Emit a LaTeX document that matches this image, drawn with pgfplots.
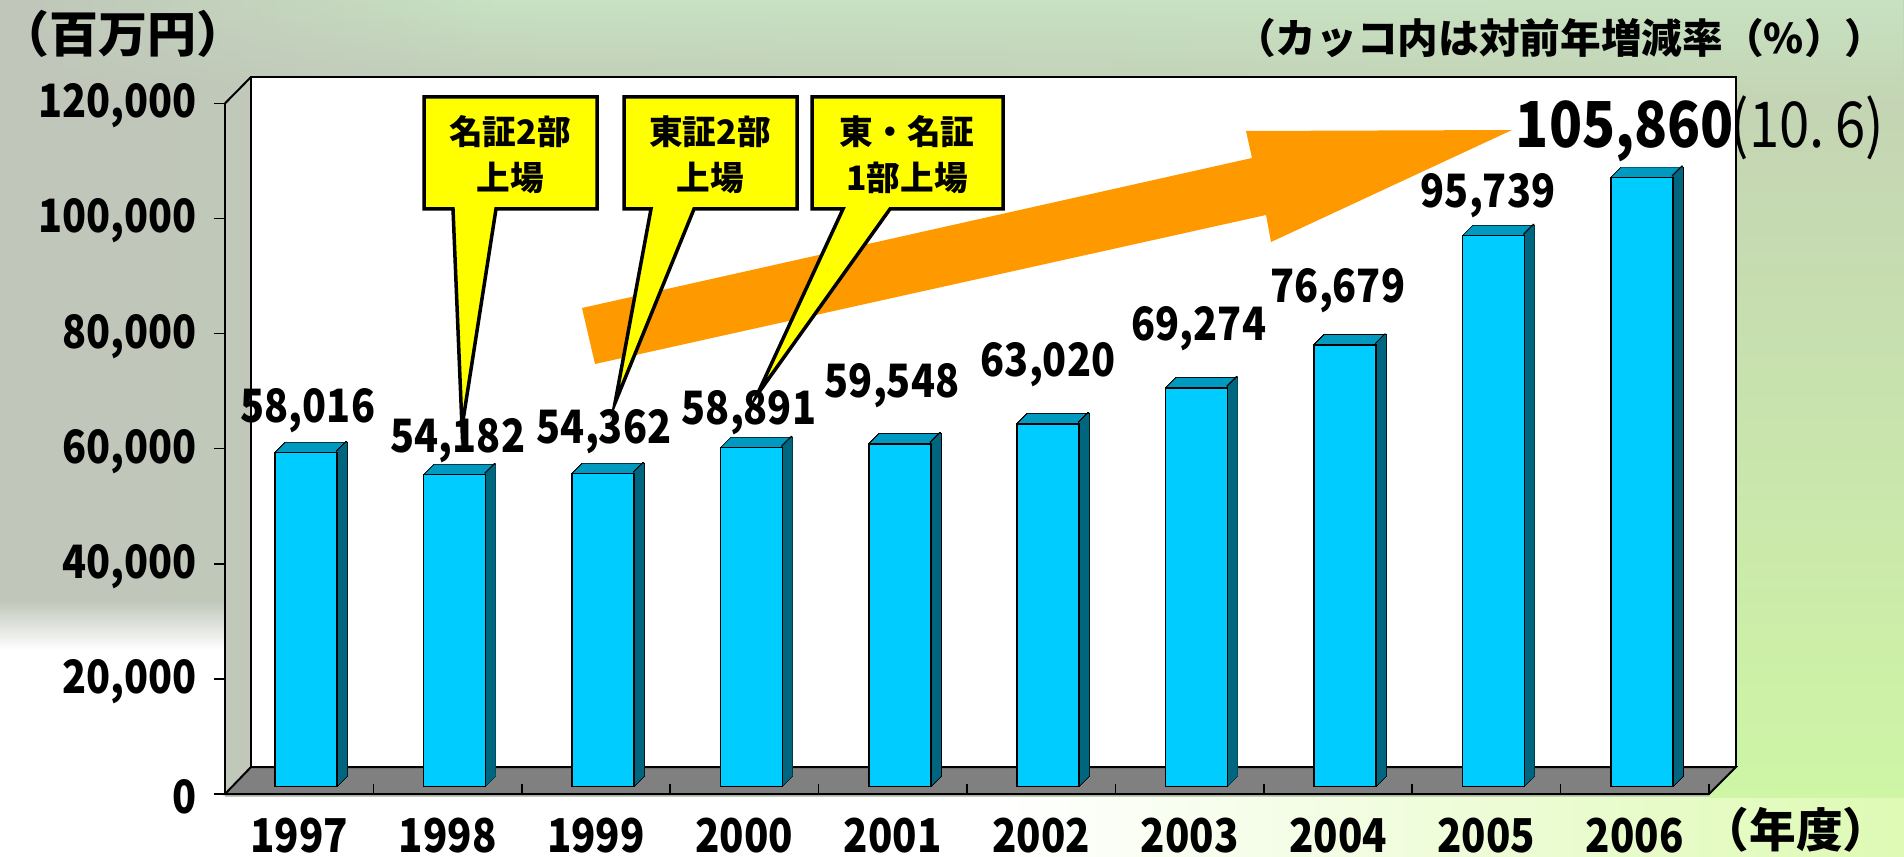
\documentclass[border=0pt]{standalone}
\usepackage{pgfplots}
\pgfplotsset{compat=1.18}
\usepackage{pgfplotstable}
\usetikzlibrary{fadings}
\usepackage{fontspec}
\setmainfont{Noto Sans CJK JP}[FakeStretch=0.86]
\newfontfamily\plainfont{Noto Sans CJK JP}
\definecolor{bfront}{RGB}{0,204,255}
\definecolor{btop}{RGB}{0,153,192}
\definecolor{bside}{RGB}{0,102,128}
\definecolor{floorgray}{RGB}{128,128,128}
\definecolor{arrowor}{RGB}{255,153,0}
\definecolor{callout}{RGB}{255,255,0}
\definecolor{bgL}{RGB}{192,198,186}
\definecolor{bgR}{RGB}{196,214,180}
\definecolor{bgRT}{RGB}{196,212,180}
\definecolor{bgRB}{RGB}{206,246,165}
\definecolor{bgBR}{RGB}{222,250,180}
\definecolor{bgTop}{RGB}{200,226,194}

\pgfplotstableread{
x v
0.5 58016
1.5 54182
2.5 54362
3.5 58891
4.5 59548
5.5 63020
6.5 69274
7.5 76679
8.5 95739
9.5 105860
}\bars

\pgfplotstableread{
lx ly lab
0.559 64466 58,016
1.570 59253 54,182
2.554 60817 54,362
3.531 64119 58,891
4.495 68810 59,548
5.546 72459 63,020
6.563 78714 69,274
7.500 85318 76,679
8.511 101825 95,739
}\labs

\newcommand{\fs}[1]{\fontsize{#1}{#1}\selectfont}

\begin{document}
\begin{tikzpicture}
\begin{scope}[x=0.3pt,y=0.3pt]
\path[use as bounding box] (0,0) rectangle (1904,-857);
% background
\shade[left color=bgL, right color=bgR] (0,0) rectangle (1904,-857);
\shade[path fading=south, left color=bgL, right color=bgTop] (0,0) rectangle (500,-100);
\fill[bgTop, path fading=south] (500,0) rectangle (1904,-100);
\shade[top color=bgL, bottom color=white] (0,-600) rectangle (225,-650);
\fill[white] (0,-650) rectangle (225,-857);
\fill[white] (225,-797) rectangle (1000,-857);
\shade[left color=white, right color=bgBR] (1000,-797) rectangle (1904,-857);
\shade[top color=bgRT, bottom color=bgRB] (1709,-100) rectangle (1904,-797);
% back wall
\filldraw[fill=white, draw=black, line width=0.6pt] (251,-767) -- (251,-77) -- (1736,-77) -- (1736,-767);
\draw[line width=0.6pt] (225,-103.4) -- (251,-77);
% floor
\filldraw[fill=floorgray, draw=black, line width=0.6pt, line join=miter] (225,-794) -- (1709,-794) -- (1736,-767) -- (251,-767) -- cycle;
\end{scope}

\begin{axis}[
  at={(67.5pt,-238.2pt)}, anchor=south west,
  scale only axis, width=445.2pt, height=207.18pt,
  xmin=0, xmax=10, ymin=0, ymax=120000,
  scaled y ticks=false,
  clip=false,
  axis x line=bottom, axis y line=left,
  axis line style={-, line width=0.8pt, black},
  ytick={0,20000,40000,60000,80000,100000,120000},
  yticklabels={0,{20,000},{40,000},{60,000},{80,000},{100,000},{120,000}},
  xtick={0.5,1.5,2.5,3.5,4.5,5.5,6.5,7.5,8.5,9.5},
  xticklabels={1997,1998,1999,2000,2001,2002,2003,2004,2005,2006},
  minor xtick={1,2,3,4,5,6,7,8,9,10},
  xtick align=inside, ytick align=outside,
  major tick length=3.3pt, minor tick length=3pt,
  major x tick style={draw=none},
  minor x tick style={black, line width=0.45pt},
  y tick style={black, line width=0.45pt},
  yticklabel style={font=\bfseries\fs{13.8pt}, inner sep=0pt, xshift=-5pt, yshift=-0.8pt},
  xticklabel style={font=\bfseries\fs{14pt}, inner sep=0pt, yshift=-6.9pt},
]
% black silhouette
\pgfplotsinvokeforeach{0,1,...,10}{
  \addplot[ybar, bar width=18.6pt, bar shift=0pt, fill=black, draw=black, line width=0.45pt,
    xshift={(7+#1)*0.3pt}, yshift={(7.5+#1)*0.3pt}] table[x=x,y=v]{\bars};
}
% top face colour
\pgfplotsinvokeforeach{1,...,10}{
  \addplot[ybar, bar width=18.6pt, bar shift=0pt, fill=btop, draw=none,
    xshift={(7+#1)*0.3pt}, yshift={(7.5+#1)*0.3pt}] table[x=x,y=v]{\bars};
}
% edge between top and side
\pgfplotsinvokeforeach{1,...,10}{
  \addplot[ybar, bar width=0.6pt, bar shift=0pt, fill=black, draw=none,
    xshift={(7+31+#1-1)*0.3pt}, yshift={(7.5+#1+1.6)*0.3pt}] table[x=x,y=v]{\bars};
}
% side face
\pgfplotsinvokeforeach{1,...,10}{
  \addplot[ybar, bar width=0.6pt, bar shift=0pt, fill=bside, draw=none,
    xshift={(7+31+#1-1)*0.3pt}, yshift={(7.5+#1)*0.3pt}] table[x=x,y=v]{\bars};
}
% front face
\addplot[ybar, bar width=18.6pt, bar shift=0pt, fill=bfront, draw=black, line width=0.45pt,
  xshift=2.1pt, yshift=2.25pt] table[x=x,y=v]{\bars};
% value labels
\addplot[only marks, mark=none, nodes near coords, point meta=explicit symbolic,
  every node near coord/.append style={anchor=base, inner sep=0pt, font=\bfseries\fs{13.8pt}}]
  table[x=lx,y=ly,meta=lab]{\labs};
\addplot[only marks, mark=none, nodes near coords, point meta=explicit symbolic,
  every node near coord/.append style={anchor=base, inner sep=0pt, font=\bfseries\fs{19pt}}]
  coordinates {(9.434,112250) [{105,860}]};
\end{axis}

\begin{scope}[x=0.3pt,y=0.3pt]
% orange arrow
\fill[arrowor] (582,-308) -- (1252,-158) -- (1246,-131) -- (1512,-130) -- (1271,-242) -- (1266,-215) -- (595,-364) -- cycle;
% callouts
\filldraw[fill=callout, draw=black, line width=1.05pt, line join=miter, miter limit=20]
  (424,-97) -- (597,-97) -- (597,-209) -- (496,-209) -- (462,-427) -- (453,-209) -- (424,-209) -- cycle;
\filldraw[fill=callout, draw=black, line width=1.05pt, line join=miter, miter limit=20]
  (624,-97) -- (797,-97) -- (797,-209) -- (694,-209) -- (615,-403) -- (651,-209) -- (624,-209) -- cycle;
\filldraw[fill=callout, draw=black, line width=1.05pt, line join=miter, miter limit=20]
  (812,-97) -- (1003,-97) -- (1003,-209) -- (890,-209) -- (757,-395) -- (843,-209) -- (812,-209) -- cycle;
\node[align=center, font=\plainfont\bfseries\fontsize{10.1pt}{13.8pt}\selectfont, inner sep=0pt] at (510,-155) {名証2部\\上場};
\node[align=center, font=\plainfont\bfseries\fontsize{10.1pt}{13.8pt}\selectfont, inner sep=0pt] at (710,-155) {東証2部\\上場};
\node[align=center, font=\plainfont\bfseries\fontsize{10.1pt}{13.8pt}\selectfont, inner sep=0pt] at (907,-155) {東・名証\\1部上場};
% titles
\node[anchor=west, inner sep=0pt, font=\plainfont\bfseries\fs{14.7pt}] at (0,-34) {（百万円）};
\node[anchor=east, inner sep=0pt, font=\plainfont\bfseries\fs{12.2pt}] at (1886,-38) {（カッコ内は対前年増減率（\%））};
\node[anchor=center, inner sep=0pt, font=\plainfont\bfseries\fs{14pt}] at (1796,-830) {（年度）};
\node[anchor=base west, inner sep=0pt, font=\fs{19pt}] at (1730,-148) {(10.\,6)};
\end{scope}
\end{tikzpicture}
\end{document}
